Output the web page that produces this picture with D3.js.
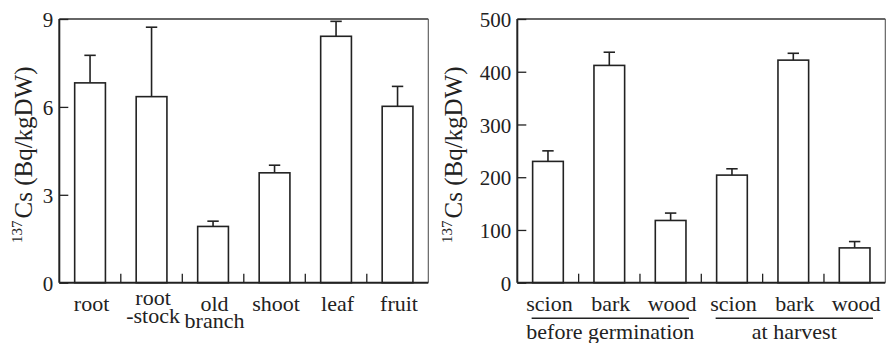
<!DOCTYPE html>
<html>
<head>
<meta charset="utf-8">
<script src="https://cdn.jsdelivr.net/npm/d3@7"></script>
<style>
  html, body { margin: 0; padding: 0; background: #fff; }
  svg { display: block; font-family: "Liberation Serif", "Times New Roman", serif; }
</style>
</head>
<body>
<svg id="chart" width="886" height="343"></svg>
<script>
// Left panel: 137Cs by plant organ
const organs = ["root", "root\n-stock", "old\nbranch", "shoot", "leaf", "fruit"];
const organMean = [6.82, 6.35, 1.92, 3.75, 8.41, 6.02];
const organErrTop = [7.76, 8.72, 2.10, 4.01, 8.92, 6.70];
const organTicks = [0, 3, 6, 9];

// Right panel: scion tissues before germination and at harvest
const tissues = ["scion", "bark", "wood", "scion", "bark", "wood"];
const tissueGroup = ["before germination", "before germination", "before germination",
                     "at harvest", "at harvest", "at harvest"];
const groups = ["before germination", "at harvest"];
const tissueMean = [230, 412, 118, 204, 422, 66];
const tissueErrTop = [250, 437, 132, 216, 435, 78];
const tissueTicks = [0, 100, 200, 300, 400, 500];

const svg = d3.select("#chart");
const ink = "#222";
const serif = '"Liberation Serif", "Times New Roman", serif';
const plotTop = 19, plotBottom = 282.7;

function panel(opts) {
  const g = svg.append("g");
  const n = opts.cats.length;
  const x = d3.scaleBand().domain(d3.range(n)).range([opts.left, opts.right]).padding(0);
  const y = d3.scaleLinear().domain([0, opts.max]).range([plotBottom, plotTop]);
  const bw = x.bandwidth();

  // frame: top and right edges
  g.append("line").attr("x1", opts.left).attr("x2", opts.right).attr("y1", plotTop).attr("y2", plotTop)
    .attr("stroke", "#333").attr("stroke-width", 1.4);
  g.append("line").attr("x1", opts.right).attr("x2", opts.right).attr("y1", plotTop).attr("y2", plotBottom)
    .attr("stroke", "#555").attr("stroke-width", 1.1);

  // y axis with inward ticks
  const ax = d3.axisLeft(y).tickValues(opts.ticks).tickSizeInner(-9).tickSizeOuter(0).tickPadding(6);
  const ag = g.append("g").attr("transform", `translate(${opts.left},0)`).call(ax);
  ag.select(".domain").remove();
  ag.selectAll(".tick line").attr("stroke", ink).attr("stroke-width", 1.3);
  ag.selectAll(".tick text").attr("font-size", 21).attr("fill", ink)
    .attr("font-family", serif).attr("dy", "0.36em");
  g.append("line").attr("x1", opts.left).attr("x2", opts.left).attr("y1", plotTop).attr("y2", plotBottom)
    .attr("stroke", ink).attr("stroke-width", 2);

  // bars with upper error bars
  const bars = g.append("g");
  opts.mean.forEach((v, i) => {
    const x0 = x(i) + bw * 0.25, w = bw * 0.5, cx = x(i) + bw / 2;
    bars.append("line").attr("x1", cx).attr("x2", cx).attr("y1", y(v)).attr("y2", y(opts.err[i]))
      .attr("stroke", ink).attr("stroke-width", 1.6);
    bars.append("line").attr("x1", cx - 5.7).attr("x2", cx + 5.7)
      .attr("y1", y(opts.err[i])).attr("y2", y(opts.err[i]))
      .attr("stroke", ink).attr("stroke-width", 1.6);
    bars.append("rect").attr("x", x0).attr("y", y(v)).attr("width", w).attr("height", y(0) - y(v))
      .attr("fill", "#fff").attr("stroke", ink).attr("stroke-width", 1.6);
  });

  // separator ticks between categories
  d3.range(1, n).forEach(i => {
    g.append("line").attr("x1", x(i)).attr("x2", x(i)).attr("y1", plotBottom).attr("y2", plotBottom - 9)
      .attr("stroke", ink).attr("stroke-width", 1.3);
  });

  // baseline
  g.append("line").attr("x1", opts.left).attr("x2", opts.right).attr("y1", plotBottom).attr("y2", plotBottom)
    .attr("stroke", ink).attr("stroke-width", 2);

  // category labels, one text element per line
  opts.cats.forEach((c, i) => {
    const lines = c.split("\n");
    const first = 310.5 + (lines.length > 1 ? (opts.shift[c] ?? 0) : 0);
    lines.forEach((s, k) => {
      g.append("text").attr("x", x(i) + bw / 2 + 1.5).attr("y", first + k * 17.5)
        .attr("text-anchor", "middle").attr("font-size", 22).attr("fill", ink).text(s);
    });
  });

  // rotated y label with superscript mass number
  const yl = g.append("text").attr("transform", `translate(${opts.labelX},243) rotate(-90)`)
    .attr("fill", ink).attr("font-size", 25);
  yl.append("tspan").attr("font-size", 15).attr("dy", -10).text("137");
  yl.append("tspan").attr("dy", 10).attr("dx", 2).text("Cs (Bq/kgDW)");

  return { x, y, bw, g };
}

panel({
  cats: organs, mean: organMean, err: organErrTop, ticks: organTicks, max: 9,
  left: 59.3, right: 428.3, labelX: 32, shift: { "root\n-stock": -5.5 }
});

const rp = panel({
  cats: tissues, mean: tissueMean, err: tissueErrTop, ticks: tissueTicks, max: 500,
  left: 517.3, right: 885.3, labelX: 462, shift: {}
});

// group underlines and names below the tissue labels
groups.forEach(gname => {
  const idx = d3.range(tissues.length).filter(i => tissueGroup[i] === gname);
  const x1 = rp.x(idx[0]) + rp.bw * 0.25 - 1;
  const x2 = rp.x(idx[idx.length - 1]) + rp.bw * 0.75 + 3;
  rp.g.append("line").attr("x1", x1).attr("x2", x2).attr("y1", 318.3).attr("y2", 318.3)
    .attr("stroke", ink).attr("stroke-width", 1.5);
  rp.g.append("text").attr("x", (x1 + x2) / 2).attr("y", 339).attr("text-anchor", "middle")
    .attr("font-size", 22).attr("fill", ink).text(gname);
});
</script>
</body>
</html>
